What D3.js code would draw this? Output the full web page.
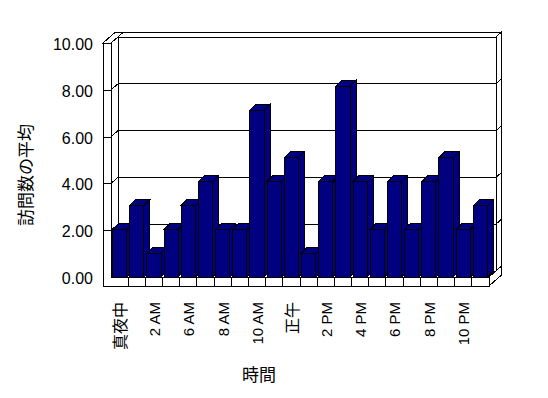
<!DOCTYPE html>
<html>
<head>
<meta charset="utf-8">
<script src="https://cdn.jsdelivr.net/npm/d3@7"></script>
<style>
  body { margin: 0; background: #fff; }
  svg text { font-family: "Liberation Sans", "Noto Sans CJK JP", sans-serif; fill: #000; }
</style>
</head>
<body>
<svg id="chart" width="548" height="398"></svg>
<script>
// hours shown on the category axis (only every other one is labelled)
const hours = ["真夜中", "1 AM", "2 AM", "5 AM", "6 AM", "7 AM", "8 AM", "9 AM", "10 AM", "11 AM", "正午",
               "1 PM", "2 PM", "3 PM", "4 PM", "5 PM", "6 PM", "7 PM", "8 PM", "9 PM", "10 PM", "11 PM"];
const visits = [2, 3, 1, 2, 3, 4, 2, 2, 7, 4, 5, 1, 4, 8, 4, 2, 4, 2, 4, 5, 2, 3];
const yTicks = [0, 2, 4, 6, 8, 10];
const yTitle = "訪問数の平均";
const xTitle = "時間";

let svg = d3.select("#chart");

// front plane of the 3d box
let x0 = 111, x1 = 489, yBase = 277, yTop = 43;
let dx = 7, dy = -6;        // depth of the box
let tx = 5.5, ty = -5;      // thickness of the walls
let leftT = 8, floorT = 9;
let bdx = 6, bdy = -6;      // depth of a bar

let x = d3.scaleBand().domain(hours).range([x0, x1]).paddingInner(0.17).paddingOuter(0.085);
let step = x.step();
let y = d3.scaleLinear().domain([0, 10]).range([yBase, yTop]);
// bars sit a bit nearer the viewer in the excel perspective, so they come out a touch taller
let yBar = y.copy().range([yBase, yBase - 238.5]);

let poly = pts => "M" + pts.map(p => p.join(",")).join("L") + "Z";
let g = svg.append("g").attr("shape-rendering", "crispEdges");

let face = (pts, fill) => g.append("path").attr("d", poly(pts))
    .attr("fill", fill || "#fff").attr("stroke", "#000").attr("stroke-width", 1);

// back wall, its top and its right edge
face([[x0 + dx, yTop + dy], [x1 + dx, yTop + dy], [x1 + dx, yBase + dy], [x0 + dx, yBase + dy]]);
face([[x0 + dx, yTop + dy], [x1 + dx, yTop + dy], [x1 + dx + tx, yTop + dy + ty], [x0 + dx + tx, yTop + dy + ty]]);
face([[x1 + dx, yTop + dy], [x1 + dx + tx, yTop + dy + ty], [x1 + dx + tx, yBase + dy + ty], [x1 + dx, yBase + dy]]);
// left wall inner face and top
face([[x0, yTop], [x0 + dx, yTop + dy], [x0 + dx, yBase + dy], [x0, yBase]]);
face([[x0 - leftT, yTop], [x0, yTop], [x0 + dx, yTop + dy], [x0 + dx + tx, yTop + dy + ty], [x0 - leftT + dx + tx, yTop + dy + ty]]);
// floor top and right side
face([[x0, yBase], [x1, yBase], [x1 + dx, yBase + dy], [x0 + dx, yBase + dy]]);
face([[x1, yBase], [x1 + dx + tx, yBase + dy + ty], [x1 + dx + tx, yBase + dy + ty + floorT], [x1, yBase + floorT]]);

// gridlines across back wall, left wall and right edge
let grid = yTicks.filter(v => v > 0 && v < 10);
g.selectAll(".grid").data(grid).enter().append("path")
    .attr("class", "grid")
    .attr("fill", "none").attr("stroke", "#000")
    .attr("d", v => "M" + x0 + "," + y(v) +
        "L" + (x0 + dx) + "," + (y(v) + dy) +
        "L" + (x1 + dx) + "," + (y(v) + dy) +
        "L" + (x1 + dx + tx) + "," + (y(v) + dy + ty));

// bars, left to right so each one hides the side of the previous
let bars = g.selectAll(".bar").data(visits).enter().append("g").attr("class", "bar");
bars.each(function(v, i) {
    let b = d3.select(this);
    let l = x(hours[i]), r = l + x.bandwidth(), t = yBar(v);
    let pts = [
        [[r, yBase], [r, t], [r + bdx, t + bdy], [r + bdx, yBase + bdy]],
        [[l, t], [r, t], [r + bdx, t + bdy], [l + bdx, t + bdy]],
        [[l, yBase], [l, t], [r, t], [r, yBase]]
    ];
    pts.forEach(p => b.append("path").attr("d", poly(p))
        .attr("fill", "#000080").attr("stroke", "#000").attr("stroke-width", 1));
});

// front of the left wall joined with front of the floor
face([[x0 - leftT, yTop], [x0, yTop], [x0, yBase], [x1, yBase], [x1, yBase + floorT], [x0 - leftT, yBase + floorT]]);

// category dividers on the floor edge
g.selectAll(".div").data(d3.range(1, hours.length)).enter().append("line")
    .attr("class", "div")
    .attr("x1", i => x0 + i * step).attr("x2", i => x0 + i * step)
    .attr("y1", yBase).attr("y2", yBase + floorT)
    .attr("stroke", "#000");

// value axis
let yAxis = d3.axisLeft(y).tickValues(yTicks).tickFormat(d3.format(".2f"))
    .tickSizeInner(leftT).tickSizeOuter(0).tickPadding(10);
let ya = svg.append("g").attr("transform", "translate(" + x0 + ",0)").call(yAxis);
ya.select(".domain").remove();
ya.selectAll(".tick line").attr("stroke", "#000").attr("shape-rendering", "crispEdges")
    .filter(d => d === 0 || d === 10).remove();
ya.selectAll(".tick text").attr("font-size", 16).attr("dy", "0.4em")
    .style("font-family", "'Liberation Sans', sans-serif");

// category labels, every other hour
let xl = svg.append("g");
xl.selectAll("text").data(hours.filter((h, i) => i % 2 === 0)).enter().append("text")
    .attr("transform", d => "translate(" + (x(d) + x.bandwidth() / 2 + 0.5) + ",302) rotate(-90)")
    .attr("text-anchor", "end")
    .attr("dy", "0.36em")
    .attr("font-size", d => /[^\x00-\x7f]/.test(d) ? 16 : 15)
    .text(d => d);

// axis titles
svg.append("text")
    .attr("transform", "translate(26,175) rotate(-90)")
    .attr("text-anchor", "middle").attr("dy", "0.36em")
    .attr("font-size", 17)
    .text(yTitle);

svg.append("text")
    .attr("x", 259).attr("y", 375)
    .attr("text-anchor", "middle").attr("dy", "0.36em")
    .attr("font-size", 17)
    .text(xTitle);
</script>
</body>
</html>
